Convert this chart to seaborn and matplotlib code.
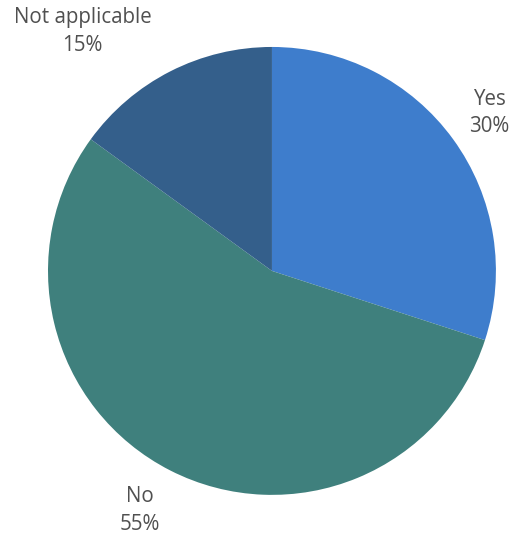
import numpy as np
import matplotlib
matplotlib.use("Agg")
import matplotlib.pyplot as plt
import seaborn as sns

# Data
categories = ["Yes", "No", "Not applicable"]
shares = [30, 55, 15]
colors = ["#3e7dcc", "#3f807d", "#345f8b"]

sns.set_theme(style="white")
plt.rcParams['font.family'] = ['Open Sans', 'DejaVu Sans']

fig = plt.figure(figsize=(5.09, 5.40), dpi=100)
ax = fig.add_axes([0.0943, 0.0833, 0.880, 0.830])

palette = sns.color_palette(colors)
wedges, _ = ax.pie(shares, colors=palette, startangle=90, counterclock=False,
                   radius=1, wedgeprops=dict(linewidth=0))

# labels placed around the pie, shifted where they would hit the figure edge
x_shift = {"Not applicable": -0.30, "No": -0.045}
for w, cat, val in zip(wedges, categories, shares):
    ang = np.deg2rad((w.theta1 + w.theta2) / 2)
    x = 1.2 * np.cos(ang) + x_shift.get(cat, 0)
    y = 1.2 * np.sin(ang)
    ax.text(x, y, f"{cat}\n{val}%", ha="center", va="center",
            fontsize=14.8, color="#505050", linespacing=1.4)

ax.set_xlim(-1, 1)
ax.set_ylim(-1, 1)
ax.set_aspect("equal")
ax.axis("off")

fig.savefig("out.png", dpi=100)
